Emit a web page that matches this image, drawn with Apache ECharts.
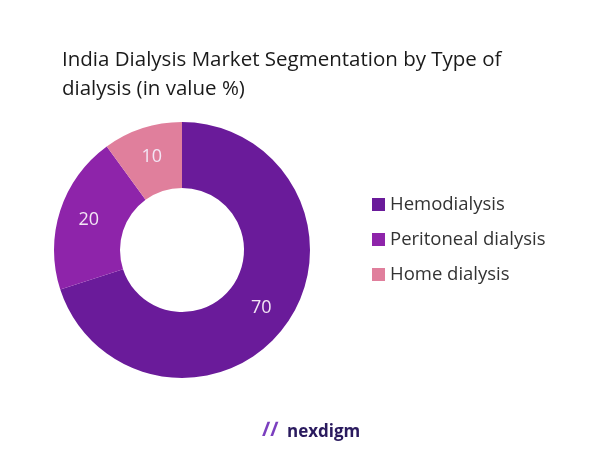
<!DOCTYPE html>
<html><head><meta charset="utf-8">
<script src="https://cdn.jsdelivr.net/npm/echarts@6/dist/echarts.min.js"></script>
<style>html,body{margin:0;background:#fff}#c{width:602px;height:451px}</style>
</head><body><div id="c"></div>
<script>
const categories = ['Hemodialysis', 'Peritoneal dialysis', 'Home dialysis'];
const values = [70, 20, 10];
const colors = ['#6a1b9a', '#8e24aa', '#e07f9c'];
const chart = echarts.init(document.getElementById('c'));
chart.setOption({
  backgroundColor: '#fff',
  title: {
    text: 'India Dialysis Market Segmentation by Type of\ndialysis (in value %)',
    left: 57, top: 41,
    textStyle: {fontFamily: 'Open Sans', fontSize: 20.5, fontWeight: 'normal', color: '#1a1a1a', lineHeight: 29}
  },
  legend: {
    orient: 'vertical', left: 367, top: 190, itemGap: 16,
    itemWidth: 13, itemHeight: 13, icon: 'rect',
    textStyle: {fontFamily: 'Open Sans', fontSize: 18.5, color: '#333'},
    data: categories
  },
  graphic: [{
    type: 'text', left: 287, top: 424,
    style: {text: 'nexdigm', font: 'bold 17px Open Sans', fill: '#2a1a5e'}
  }, {
    type: 'text', left: 262, top: 420,
    style: {text: '∕∕', font: 'bold 20px Open Sans', fill: '#7b3fbf'}
  }],
  series: [{
    type: 'pie', center: [182, 250], radius: [62, 128],
    startAngle: 90, clockwise: true, silent: true,
    label: {position: 'inside', formatter: '{c}', fontFamily: 'Open Sans', fontSize: 18, color: '#f3e6f5'},
    labelLine: {show: false},
    data: categories.map((n, i) => ({name: n, value: values[i], itemStyle: {color: colors[i]}}))
  }]
});
</script></body></html>
